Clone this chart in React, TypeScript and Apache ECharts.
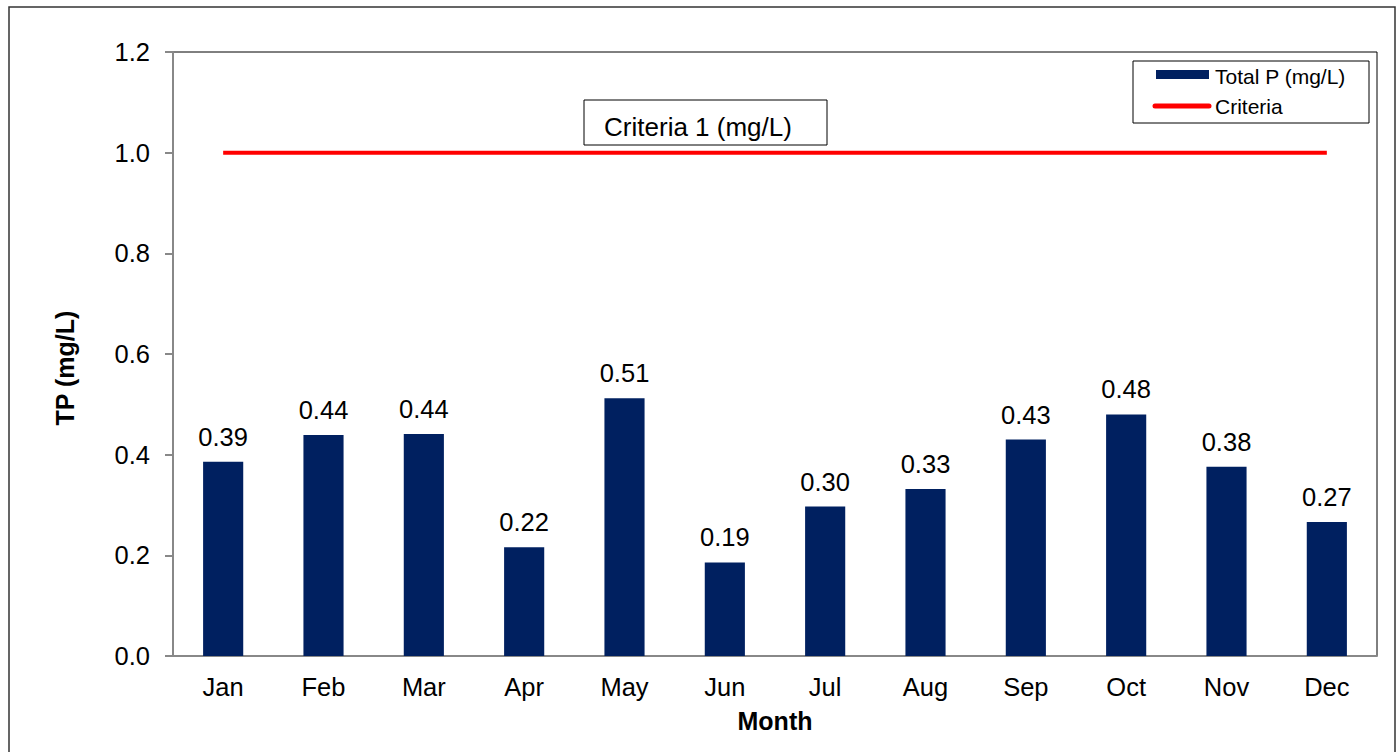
import React, { useEffect, useRef } from "react";
import * as echarts from "echarts";

const months = ["Jan", "Feb", "Mar", "Apr", "May", "Jun", "Jul", "Aug", "Sep", "Oct", "Nov", "Dec"];
const totalP = [0.386, 0.439, 0.441, 0.216, 0.512, 0.186, 0.297, 0.332, 0.43, 0.48, 0.376, 0.266];
const criteria = [1, 1, 1, 1, 1, 1, 1, 1, 1, 1, 1, 1];
const yTicks = [0, 0.2, 0.4, 0.6, 0.8, 1.0, 1.2];

const FONT = "'Liberation Sans', Arial, sans-serif";

export default function App() {
  const ref = useRef<HTMLDivElement>(null);
  useEffect(() => {
    if (!ref.current) return;
    const chart = echarts.init(ref.current, undefined, { renderer: "svg" });
    chart.setOption({
      animation: false,
      backgroundColor: "#ffffff",
      textStyle: { fontFamily: FONT, color: "#000" },
      grid: {
        left: 173,
        top: 52,
        right: 22,
        bottom: 96,
        show: true,
        borderColor: "#000",
        borderWidth: 1,
      },
      xAxis: {
        type: "category",
        data: months,
        name: "Month",
        nameLocation: "middle",
        nameGap: 52,
        nameTextStyle: { fontSize: 25, fontWeight: "bold", color: "#000", fontFamily: FONT },
        axisLine: { show: true, lineStyle: { color: "#888", width: 2 } },
        axisTick: { show: false },
        axisLabel: { fontSize: 25.5, color: "#000", margin: 18, fontFamily: FONT },
        splitLine: { show: false },
      },
      yAxis: {
        type: "value",
        min: yTicks[0],
        max: yTicks[yTicks.length - 1],
        interval: 0.2,
        axisLine: { show: true, lineStyle: { color: "#888", width: 2 } },
        axisTick: { show: true, inside: false, length: 8, lineStyle: { color: "#888", width: 2 } },
        axisLabel: {
          fontSize: 25.5,
          color: "#000",
          margin: 23,
          fontFamily: FONT,
          formatter: (v: number) => v.toFixed(1),
        },
        splitLine: { show: false },
      },
      series: [
        {
          name: "Total P (mg/L)",
          type: "bar",
          data: totalP,
          barWidth: "40%",
          itemStyle: { color: "#002060" },
          label: {
            show: true,
            position: "top",
            distance: 12,
            fontSize: 25.5,
            color: "#000",
            fontFamily: FONT,
            formatter: (p: any) => Number(p.value).toFixed(2),
          },
        },
        {
          name: "Criteria",
          type: "line",
          data: criteria,
          symbol: "none",
          lineStyle: { color: "#ff0000", width: 4 },
          z: 5,
        },
      ],
      graphic: [
        {
          type: "rect",
          shape: { x: 9, y: 7, width: 1386, height: 760 },
          style: { fill: "none", stroke: "#333", lineWidth: 1.5 },
          silent: true,
          z: -10,
        },
        {
          type: "text",
          x: 65,
          y: 368,
          rotation: Math.PI / 2,
          style: {
            text: "TP (mg/L)",
            fontSize: 25,
            fontWeight: "bold",
            fill: "#000",
            fontFamily: FONT,
            align: "center",
            verticalAlign: "middle",
          },
        },
        {
          type: "rect",
          shape: { x: 584, y: 100, width: 243, height: 45 },
          style: { fill: "#fff", stroke: "#000", lineWidth: 1 },
        },
        {
          type: "text",
          x: 698,
          y: 127,
          style: {
            text: "Criteria 1 (mg/L)",
            fontSize: 26,
            fill: "#000",
            fontFamily: FONT,
            align: "center",
            verticalAlign: "middle",
          },
        },
        {
          type: "rect",
          shape: { x: 1133, y: 61, width: 236, height: 62 },
          style: { fill: "#fff", stroke: "#000", lineWidth: 1 },
        },
        {
          type: "rect",
          shape: { x: 1156, y: 70, width: 53, height: 9 },
          style: { fill: "#002060" },
        },
        {
          type: "text",
          x: 1215,
          y: 76,
          style: {
            text: "Total P (mg/L)",
            fontSize: 21,
            fill: "#000",
            fontFamily: FONT,
            align: "left",
            verticalAlign: "middle",
          },
        },
        {
          type: "line",
          shape: { x1: 1155, y1: 106, x2: 1209, y2: 106 },
          style: { stroke: "#ff0000", lineWidth: 5, lineCap: "round" },
        },
        {
          type: "text",
          x: 1215,
          y: 106,
          style: {
            text: "Criteria",
            fontSize: 21,
            fill: "#000",
            fontFamily: FONT,
            align: "left",
            verticalAlign: "middle",
          },
        },
      ],
    });
    return () => chart.dispose();
  }, []);
  return (
    <div
      ref={ref}
      style={{ position: "fixed", left: 0, top: 0, width: 1399, height: 752 }}
    />
  );
}
